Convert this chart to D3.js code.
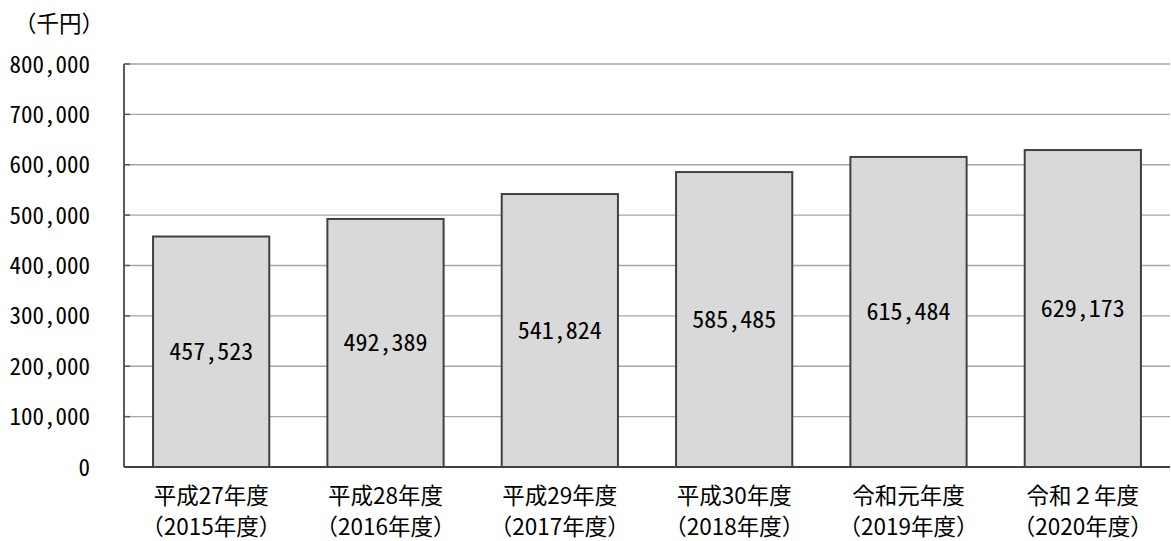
<!DOCTYPE html>
<html><head><meta charset="utf-8">
<script src="https://cdn.jsdelivr.net/npm/d3@7"></script>
<style>
html,body{margin:0;padding:0;background:#fff;}
text{font-family:"Noto Sans CJK JP","Noto Sans CJK SC",sans-serif;fill:#000;}
text.num{font-feature-settings:"hwid" 1;}
</style></head>
<body>
<svg id="c" width="1171" height="541"></svg>
<script>
const categoriesLine1 = ["平成27年度","平成28年度","平成29年度","平成30年度","令和元年度","令和２年度"];
const categoriesLine2 = ["（2015年度）","（2016年度）","（2017年度）","（2018年度）","（2019年度）","（2020年度）"];
const values = [457523, 492389, 541824, 585485, 615484, 629173];
const yTicks = [0,100000,200000,300000,400000,500000,600000,700000,800000];
const unitLabel = "（千円）";

(function(){
const svg = d3.select("#c");
const pl = 124, pr = 1170, pt = 64, pb = 467;
const x = d3.scaleBand().domain(d3.range(values.length)).range([pl,pr]).paddingInner(1/3).paddingOuter(1/6);
const y = d3.scaleLinear().domain([0,800000]).range([pb,pt]);
const fmt = d3.format(",");

// gridlines
svg.append("g").selectAll("line").data(yTicks.filter(d=>d>0)).join("line")
  .attr("x1",pl).attr("x2",pr).attr("y1",d=>y(d)).attr("y2",d=>y(d))
  .attr("stroke","#a6a6a6").attr("stroke-width",1.3);

// y axis
const yAxis = d3.axisLeft(y).tickValues(yTicks).tickFormat(fmt).tickSize(0).tickPadding(34);
const ga = svg.append("g").attr("transform",`translate(${pl},0)`).call(yAxis);
ga.select(".domain").remove();
ga.attr("font-family",null).attr("font-size",null);
ga.selectAll("text").attr("class","num").attr("font-size",23).attr("dy","0.35em").attr("fill","#000");
// inner tick marks
svg.append("g").selectAll("line").data(yTicks).join("line")
  .attr("x1",pl).attr("x2",pl+6).attr("y1",d=>y(d)).attr("y2",d=>y(d))
  .attr("stroke","#595959").attr("stroke-width",1.5);

// bars
svg.append("g").selectAll("rect").data(values).join("rect")
  .attr("x",(d,i)=>x(i)).attr("width",x.bandwidth())
  .attr("y",d=>y(d)).attr("height",d=>pb-y(d))
  .attr("fill","#d9d9d9").attr("stroke","#404040").attr("stroke-width",2);

// axis lines
svg.append("line").attr("x1",pl).attr("x2",pl).attr("y1",pt).attr("y2",pb)
  .attr("stroke","#595959").attr("stroke-width",2);
svg.append("line").attr("x1",pl).attr("x2",pr).attr("y1",pb).attr("y2",pb)
  .attr("stroke","#404040").attr("stroke-width",2);

// value labels
svg.append("g").selectAll("text").data(values).join("text")
  .attr("class","num")
  .attr("x",(d,i)=>x(i)+x.bandwidth()/2).attr("y",d=>(y(d)+pb)/2)
  .attr("dy","0.35em").attr("text-anchor","middle").attr("font-size",24)
  .text(d=>fmt(d));

// x labels
const xl = svg.append("g");
xl.selectAll("text.l1").data(categoriesLine1).join("text").attr("class","l1")
  .attr("x",(d,i)=>x(i)+x.bandwidth()/2).attr("y",496).attr("dy","0.35em")
  .attr("text-anchor","middle").attr("font-size",22.5).text(d=>d);
xl.selectAll("text.l2").data(categoriesLine2).join("text").attr("class","l2")
  .attr("x",(d,i)=>x(i)+x.bandwidth()/2).attr("y",527).attr("dy","0.35em")
  .attr("text-anchor","middle").attr("font-size",22.5).text(d=>d);

// unit
svg.append("text").attr("x",59).attr("y",24).attr("dy","0.35em").attr("text-anchor","middle")
  .attr("font-size",22.5).text(unitLabel);
})();
</script>
</body></html>
